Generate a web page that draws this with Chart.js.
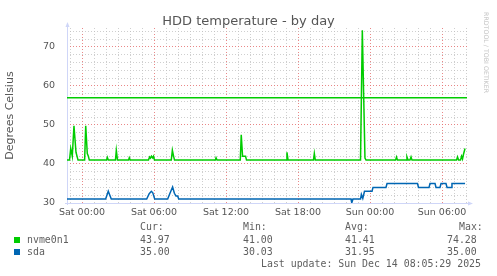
<!DOCTYPE html>
<html>
<head>
<meta charset="utf-8">
<title>HDD temperature - by day</title>
<script src="https://cdn.jsdelivr.net/npm/chart.js@4"></script>
<style>
  body { margin: 0; background: #ffffff; }
  #wrap { position: relative; width: 497px; height: 276px; overflow: hidden; }
  #chart { position: absolute; left: 0; top: 0; }
  #title {
    position: absolute; left: 0; top: 13px; width: 497px; text-align: center;
    font: 13px/15px "DejaVu Sans", sans-serif; color: #555;
  }
  #watermark {
    position: absolute; left: 490px; top: 12px; transform-origin: 0 0; transform: rotate(90deg);
    font: 6.3px/7px "DejaVu Sans", sans-serif; color: #c4c4c4; white-space: nowrap;
  }
  .lg {
    position: absolute; font: 9.9px/12px "DejaVu Sans Mono", monospace; color: #5f5f5f; white-space: pre;
  }
  .box { position: absolute; width: 6px; height: 6px; }
</style>
</head>
<body>
<div id="wrap">
  <canvas id="chart" width="497" height="276"></canvas>
  <div id="title">HDD temperature - by day</div>
  <div id="watermark">RRDTOOL / TOBI OETIKER</div>
</div>
<script>
// time axis in hours from Sat 00:00 (munin day graph: 400 samples of 5 min)
const startHour = -1.25;       // Fri 22:45
const endHour = 32.083;        // Sun 08:05

const xTickHours = [0, 6, 12, 18, 24, 30];
const xTickLabels = ['Sat 00:00', 'Sat 06:00', 'Sat 12:00', 'Sat 18:00', 'Sun 00:00', 'Sun 06:00'];
const yTickLabels = [30, 40, 50, 60, 70];
const yMin = 30;
const yMax = 74.87;

// nvme0n1 readings (hour, °C)
const nvmeHours = [
  -1.25, -1.04, -0.94, -0.81, -0.67, -0.5, -0.33,
  0.22, 0.31, 0.44, 0.53, 0.61,
  2.04, 2.11, 2.19,
  2.79, 2.86, 2.96,
  3.88, 3.94, 4.02,
  5.54, 5.63, 5.71, 5.79, 5.89, 5.96, 6.04,
  7.44, 7.53, 7.63, 7.71,
  11.11, 11.17, 11.25,
  13.19, 13.27, 13.38, 13.63, 13.71,
  17.02, 17.08, 17.17,
  19.29, 19.36, 19.44,
  23.21, 23.36, 23.58, 23.67,
  26.13, 26.21, 26.29,
  27.0, 27.08, 27.17,
  27.33, 27.42, 27.5,
  31.21, 31.29, 31.38,
  31.54, 31.63, 31.71, 31.79, 31.92
];
const nvmeTemps = [
  41, 41, 44, 42, 49.8, 43, 41,
  41, 49.8, 42.7, 42, 41,
  41, 41.7, 41,
  41, 43.5, 41,
  41, 41.6, 41,
  41, 41.8, 41.5, 42, 41.6, 42, 41,
  41, 43.5, 42, 41,
  41, 41.6, 41,
  41, 47.5, 42, 42, 41,
  41, 43, 41,
  41, 42.7, 41,
  41, 74.28, 41.5, 41,
  41, 41.8, 41,
  41, 41.8, 41,
  41, 41.8, 41,
  41, 41.8, 41,
  41, 42, 41.3, 42.5, 43.97
];

// sda readings (hour, °C)
const sdaHours = [
  -1.25,
  1.97, 2.19, 2.44,
  5.39, 5.6, 5.78, 5.9, 6.06,
  7.14, 7.33, 7.55, 7.7, 7.83, 7.97, 8.06,
  22.42, 22.48, 22.58,
  23.21, 23.28, 23.4, 23.54,
  24.17, 24.25,
  25.33, 25.42,
  27.96, 28.04,
  28.92, 29.0, 29.42, 29.5,
  29.83, 29.92, 30.33, 30.42,
  30.75, 30.83, 31.92
];
const sdaTemps = [
  31,
  31, 33, 31,
  31, 32.4, 33, 32.6, 31,
  31, 32.5, 34.1, 32.5, 31.8, 31.8, 31,
  31, 30.03, 31,
  31, 32.2, 31.2, 33,
  33, 34,
  34, 35,
  35, 34,
  34, 35, 35, 34,
  34, 35, 35, 34,
  34, 35, 35
];

const warnLevel = 57;

// legend table
const seriesNames = ['nvme0n1', 'sda'];
const seriesColors = ['#00cc00', '#0066b3'];
const curValues = ['43.97', '35.00'];
const minValues = ['41.00', '30.03'];
const avgValues = ['41.41', '31.95'];
const maxValues = ['74.28', '35.00'];

// ---- legend (html text) ----
const wrap = document.getElementById('wrap');
function addText(txt, left, top) {
  const d = document.createElement('div');
  d.className = 'lg';
  d.style.left = left + 'px';
  d.style.top = top + 'px';
  d.textContent = txt;
  wrap.appendChild(d);
}
const colX = [140, 243, 345, 447];
addText('Cur:', colX[0], 221);
addText('Min:', colX[1], 221);
addText('Avg:', colX[2], 221);
addText('Max:', 459, 221);
const columns = [curValues, minValues, avgValues, maxValues];
seriesNames.forEach((name, i) => {
  const top = 233.5 + i * 12;
  const box = document.createElement('div');
  box.className = 'box';
  box.style.left = '14px';
  box.style.top = (top + 3) + 'px';
  box.style.background = seriesColors[i];
  wrap.appendChild(box);
  addText(name, 27, top);
  columns.forEach((col, c) => addText(col[i], colX[c], top));
});
addText('Last update: Sun Dec 14 08:05:29 2025', 261, 257.5);

// ---- chart ----
const minorGrid = 'rgba(191,191,191,0.75)';
const majorGrid = 'rgba(230,115,115,0.85)';
const axisColor = '#cfd6f8';

// axis lines + arrows like rrdtool
const axisArrows = {
  id: 'axisArrows',
  beforeDatasetsDraw(chart) {
    const { ctx, chartArea: a } = chart;
    ctx.save();
    ctx.strokeStyle = axisColor;
    ctx.fillStyle = axisColor;
    ctx.lineWidth = 1;
    ctx.beginPath();
    ctx.moveTo(a.left + 0.5, a.bottom + 2);
    ctx.lineTo(a.left + 0.5, a.top - 3);
    ctx.moveTo(a.left - 2, a.bottom + 0.5);
    ctx.lineTo(a.right + 3, a.bottom + 0.5);
    ctx.stroke();
    ctx.beginPath();
    ctx.moveTo(a.left + 0.5, a.top - 6);
    ctx.lineTo(a.left - 1.5, a.top - 1);
    ctx.lineTo(a.left + 2.5, a.top - 1);
    ctx.closePath();
    ctx.fill();
    ctx.beginPath();
    ctx.moveTo(a.right + 6, a.bottom + 0.5);
    ctx.lineTo(a.right + 1, a.bottom - 1.5);
    ctx.lineTo(a.right + 1, a.bottom + 2.5);
    ctx.closePath();
    ctx.fill();
    ctx.restore();
  }
};

function toPoints(xs, ys) {
  return xs.map((x, i) => ({ x: x, y: ys[i] }));
}

const ctx = document.getElementById('chart').getContext('2d');
new Chart(ctx, {
  type: 'line',
  data: {
    datasets: [
      {
        label: 'warning',
        data: [{ x: startHour, y: warnLevel }, { x: endHour, y: warnLevel }],
        borderColor: seriesColors[0],
        borderWidth: 1.5,
        pointRadius: 0
      },
      {
        label: seriesNames[0],
        data: toPoints(nvmeHours, nvmeTemps),
        borderColor: seriesColors[0],
        borderWidth: 1.5,
        pointRadius: 0,
        tension: 0
      },
      {
        label: seriesNames[1],
        data: toPoints(sdaHours, sdaTemps),
        borderColor: seriesColors[1],
        borderWidth: 1.5,
        pointRadius: 0,
        tension: 0
      }
    ]
  },
  options: {
    responsive: false,
    animation: false,
    events: [],
    layout: { padding: { left: 0, top: 28, right: 30, bottom: 0 } },
    plugins: {
      legend: { display: false },
      tooltip: { enabled: false },
      title: { display: false }
    },
    scales: {
      x: {
        type: 'linear',
        min: startHour,
        max: endHour,
        afterBuildTicks(scale) {
          const t = [];
          for (let h = Math.ceil(startHour); h <= Math.floor(endHour); h++) t.push({ value: h });
          scale.ticks = t;
        },
        afterFit(scale) { scale.height = 73; },
        ticks: {
          autoSkip: false,
          maxRotation: 0,
          padding: 4,
          color: '#555',
          font: { family: 'DejaVu Sans', size: 9.5 },
          callback(v) {
            const i = xTickHours.indexOf(v);
            return i >= 0 ? xTickLabels[i] : '';
          }
        },
        grid: {
          drawTicks: false,
          color(c) { return c.tick && xTickHours.includes(c.tick.value) ? majorGrid : minorGrid; }
        },
        border: { display: false, dash: [1, 2] }
      },
      y: {
        type: 'linear',
        min: yMin,
        max: yMax,
        afterBuildTicks(scale) {
          const t = [];
          for (let v = yMin; v <= yMax; v += 2) t.push({ value: v });
          scale.ticks = t;
        },
        afterFit(scale) { scale.width = 67; },
        ticks: {
          autoSkip: false,
          padding: 12,
          color: '#555',
          font: { family: 'DejaVu Sans', size: 9.5 },
          callback(v) { return yTickLabels.includes(v) ? String(v) : ''; }
        },
        grid: {
          drawTicks: false,
          color(c) { return c.tick && yTickLabels.includes(c.tick.value) ? majorGrid : minorGrid; }
        },
        border: { display: false, dash: [1, 2] },
        title: {
          display: true,
          text: 'Degrees Celsius',
          color: '#555',
          font: { family: 'DejaVu Sans', size: 11 },
          padding: { top: 3.5, bottom: 0 }
        }
      }
    }
  },
  plugins: [axisArrows]
});
</script>
</body>
</html>
